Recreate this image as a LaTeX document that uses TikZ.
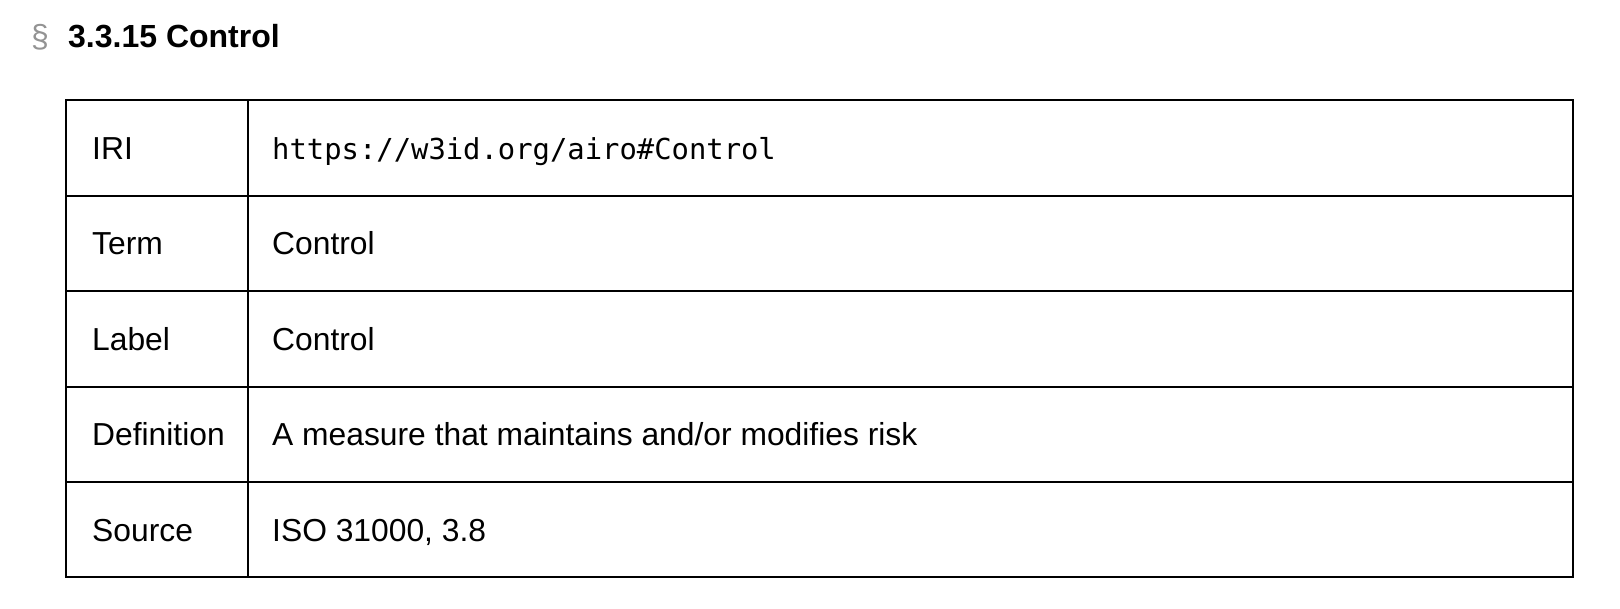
\documentclass[tikz,border=0pt]{standalone}
\usepackage{fontspec}
\setmainfont{Liberation Sans}
\newfontfamily\monof{DejaVu Sans Mono}
\begin{document}
\begin{tikzpicture}[x=1pt,y=-1pt,
  grid/.style={line width=2pt,draw=black},
  cell/.style={anchor=base west,inner sep=0pt,font=\fontsize{31.8}{36}\selectfont},
  mono/.style={anchor=base west,inner sep=0pt,font=\monof\fontsize{28.85}{34}\selectfont}]
\useasboundingbox (0,0) rectangle (1620,608);
\node[anchor=base west,inner sep=0pt,font=\fontsize{32}{38}\selectfont,text=gray!85] (sec) at (31,47) {§};
\node[anchor=base west,inner sep=0pt,font=\bfseries\fontsize{32}{38}\selectfont] (head) at (68,47) {3.3.15 Control};
% table
\draw[grid] (66,100) rectangle (1573,577);
\draw[grid] (248,100) -- (248,577);
\foreach \y in {195.5,291,386.5,482} \draw[grid] (66,\y) -- (1573,\y);
\node[cell] (l1) at (92,159) {IRI};
\node[mono] (v1) at (272,159) {https://w3id.org/airo\#Control};
\node[cell] (l2) at (92,254.5) {Term};
\node[cell] (v2) at (272,254.5) {Control};
\node[cell] (l3) at (92,350) {Label};
\node[cell] (v3) at (272,350) {Control};
\node[cell] (l4) at (92,445.5) {Definition};
\node[cell] (v4) at (272,445.5) {A measure that maintains and/or modifies risk};
\node[cell] (l5) at (92,541) {Source};
\node[cell] (v5) at (272,541) {ISO 31000, 3.8};
\end{tikzpicture}
\end{document}
